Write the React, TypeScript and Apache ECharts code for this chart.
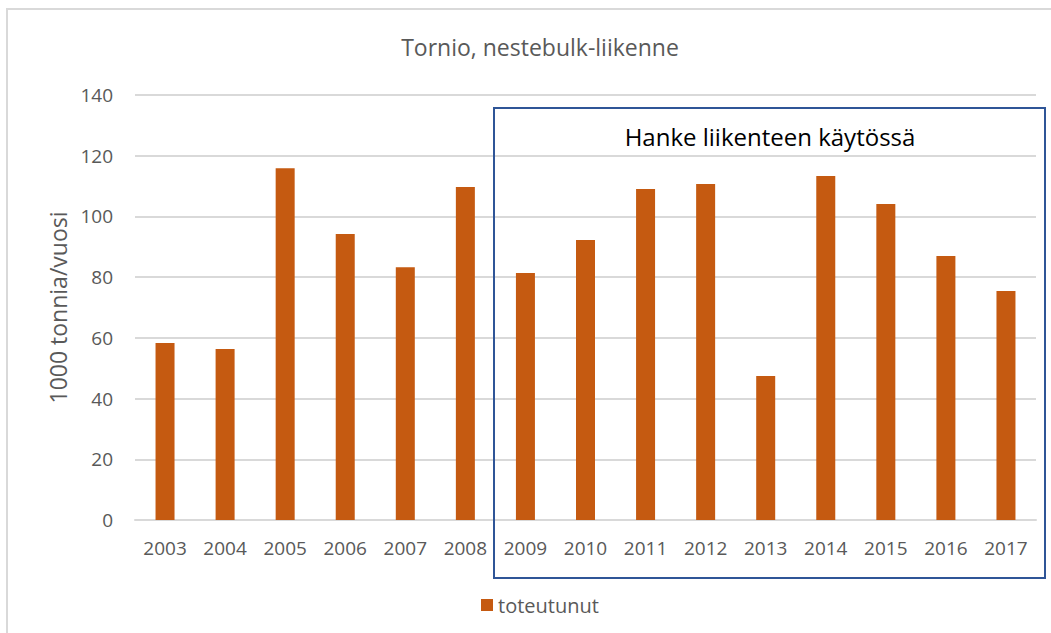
import React, { useEffect, useRef } from "react";
import * as echarts from "echarts";

const years = ["2003", "2004", "2005", "2006", "2007", "2008", "2009", "2010", "2011", "2012", "2013", "2014", "2015", "2016", "2017"];
const toteutunut = [58.3, 56.3, 115.9, 94.2, 83.3, 109.7, 81.4, 92.2, 109.0, 110.7, 47.4, 113.3, 104.1, 87.0, 75.4];
const titleText = "Tornio, nestebulk-liikenne";
const yAxisTitle = "1000 tonnia/vuosi";
const seriesName = "toteutunut";
const boxLabel = "Hanke liikenteen käytössä";

export default function App() {
  const ref = useRef<HTMLDivElement>(null);
  useEffect(() => {
    if (!ref.current) return;
    const chart = echarts.init(ref.current, null, { renderer: "svg" });
    const font = "'Open Sans', 'Liberation Sans', sans-serif";
    chart.setOption({
      animation: false,
      backgroundColor: "#ffffff",
      textStyle: { fontFamily: font },
      title: {
        text: titleText,
        left: 535,
        textAlign: "center",
        top: 30,
        textStyle: { fontSize: 23, fontWeight: "normal", color: "#595959", fontFamily: font },
      },
      grid: { left: 135, right: 15, top: 95, bottom: 113, containLabel: false },
      legend: {
        data: [seriesName],
        left: 476,
        top: 590,
        icon: "rect",
        itemWidth: 12,
        itemHeight: 12,
        itemGap: 6,
        textStyle: { fontSize: 20, color: "#595959", fontFamily: font },
      },
      xAxis: {
        type: "category",
        data: years,
        axisLine: { show: true, lineStyle: { color: "#D9D9D9", width: 2 } },
        axisTick: { show: false },
        axisLabel: { fontSize: 19, color: "#595959", margin: 18, fontFamily: font },
      },
      yAxis: {
        type: "value",
        min: 0,
        max: 140,
        interval: 20,
        name: yAxisTitle,
        nameLocation: "middle",
        nameGap: 62,
        nameTextStyle: { fontSize: 23, color: "#595959", fontFamily: font },
        axisLine: { show: false },
        axisTick: { show: false },
        axisLabel: { fontSize: 19, color: "#595959", margin: 22, fontFamily: font },
        splitLine: { lineStyle: { color: "#D9D9D9", width: 2 } },
      },
      series: [
        {
          name: seriesName,
          type: "bar",
          data: toteutunut,
          barWidth: 19,
          itemStyle: { color: "#C55A11" },
        },
      ],
      graphic: [
        {
          type: "rect",
          shape: { x: 7, y: 9, width: 1200, height: 800 },
          style: { fill: "none", stroke: "#D9D9D9", lineWidth: 2 },
          silent: true,
        },
        {
          type: "rect",
          shape: { x: 494, y: 108, width: 551, height: 470 },
          style: { fill: "none", stroke: "#2F5597", lineWidth: 2 },
          silent: true,
          z: 10,
        },
        {
          type: "text",
          x: 770,
          y: 136,
          style: {
            text: boxLabel,
            fill: "#000000",
            fontSize: 24,
            fontFamily: font,
            align: "center",
            verticalAlign: "middle",
          },
          z: 10,
        },
      ],
    });
    return () => chart.dispose();
  }, []);
  return (
    <div
      ref={ref}
      style={{ position: "fixed", left: 0, top: 0, width: 1051, height: 633 }}
    />
  );
}
